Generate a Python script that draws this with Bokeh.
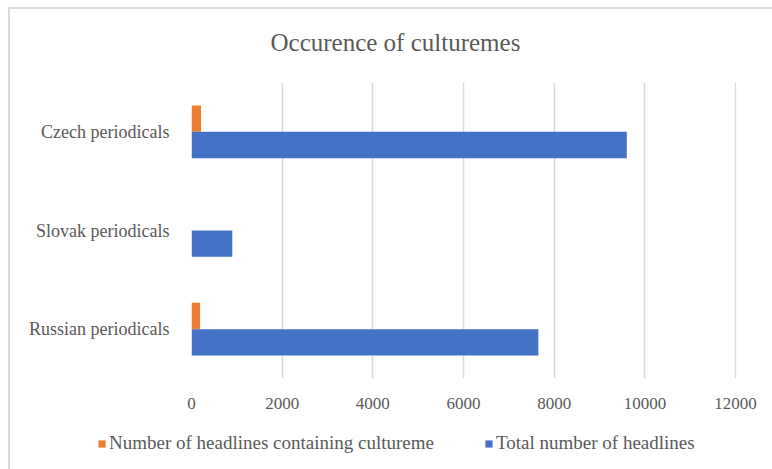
from bokeh.plotting import figure
from bokeh.layouts import column, row
from bokeh.models import (FactorRange, Range1d, FixedTicker, Legend, LegendItem,
                          ColumnDataSource)
from bokeh.transform import dodge
from bokeh.embed import file_html
from bokeh.resources import INLINE

# ---- data ----
categories = ["Russian periodicals", "Slovak periodicals", "Czech periodicals"]
with_cultureme = [190, 0, 210]
total_headlines = [7650, 900, 9600]
x_ticks = [0, 2000, 4000, 6000, 8000, 10000, 12000]
title_text = "Occurence of culturemes"
series_names = ["Number of headlines containing cultureme", "Total number of headlines"]

ORANGE = "#ED7D31"
BLUE = "#4472C4"
GREY = "#595959"
GRID = "#D9D9D9"
FONT = "Liberation Serif"

src = ColumnDataSource(dict(cat=categories, cult=with_cultureme, total=total_headlines))

W = 772
H1, H2 = 420, 49
FL, FR, FT, FB = 191, 736, 80, 378  # frame edges of the main chart

p = figure(width=W, height=H1, output_backend="svg", toolbar_location=None,
           y_range=FactorRange(factors=categories, range_padding=0),
           x_range=Range1d(0, 12020),
           min_border_left=FL, min_border_right=W - FR,
           min_border_top=FT, min_border_bottom=H1 - FB)
p.outline_line_color = None
p.background_fill_color = "white"
p.border_fill_alpha = 0

bh = 0.267
r_or = p.hbar(y=dodge("cat", bh / 2, range=p.y_range), right="cult", left=0, height=bh,
              source=src, fill_color=ORANGE, line_color=None)
r_bl = p.hbar(y=dodge("cat", -bh / 2, range=p.y_range), right="total", left=0, height=bh,
              source=src, fill_color=BLUE, line_color=None)

# title
p.title.text = title_text
p.title.align = "left"
p.title.offset = 79
p.title.standoff = 53
p.title.text_font = FONT
p.title.text_font_size = "25px"
p.title.text_font_style = "normal"
p.title.text_color = GREY

# axes
xa = p.xaxis[0]
xa.ticker = FixedTicker(ticks=x_ticks)
xa.axis_line_color = None
xa.major_tick_line_color = None
xa.minor_tick_line_color = None
xa.major_label_text_font = FONT
xa.major_label_text_font_size = "17px"
xa.major_label_text_color = GREY
xa.major_label_standoff = 13

ya = p.yaxis[0]
ya.axis_line_color = None
ya.major_tick_line_color = None
ya.minor_tick_line_color = None
ya.major_label_text_font = FONT
ya.major_label_text_font_size = "18px"
ya.major_label_text_color = GREY
ya.major_label_standoff = 16

p.xgrid.grid_line_color = GRID
p.xgrid.grid_line_width = 1.5
p.xgrid.ticker = FixedTicker(ticks=x_ticks)
p.ygrid.grid_line_color = None

# legend strip (separate figure so the legend is not clipped by the main frame)
lg = figure(width=W, height=H2, output_backend="svg", toolbar_location=None,
            x_axis_type=None, y_axis_type=None, x_range=Range1d(0, 1), y_range=Range1d(0, 1),
            min_border=0, min_border_left=0, min_border_right=0,
            min_border_top=0, min_border_bottom=0)
lg.outline_line_color = None
lg.background_fill_alpha = 0
lg.border_fill_alpha = 0
lg.grid.visible = False
# swatch renderers sit outside the visible range; only their legend swatches show
sw_src = ColumnDataSource(dict(y=[-5], right=[0.1]))
s_or = lg.hbar(y="y", right="right", left=0, height=0.1, source=sw_src,
               fill_color=ORANGE, line_color=None)
s_bl = lg.hbar(y="y", right="right", left=0, height=0.1, source=sw_src,
               fill_color=BLUE, line_color=None)
legend = Legend(items=[LegendItem(label=series_names[0], renderers=[s_or]),
                       LegendItem(label=series_names[1], renderers=[s_bl])],
                orientation="horizontal", location=(97, 15),
                label_text_font=FONT, label_text_font_size="19px",
                label_text_color=GREY, glyph_width=9, glyph_height=9,
                label_standoff=3, spacing=50, padding=0, margin=0,
                border_line_color=None, background_fill_alpha=0)
lg.add_layout(legend, "center")

layout = column(p, row(lg), spacing=0)
layout.styles = {
    "background": ("linear-gradient(#D9D9D9,#D9D9D9) 8px 7px / 764px 2px no-repeat, "
                   "linear-gradient(#D9D9D9,#D9D9D9) 8px 7px / 2px 462px no-repeat, white"),
}

open("out.html", "w").write(file_html(layout, INLINE))
